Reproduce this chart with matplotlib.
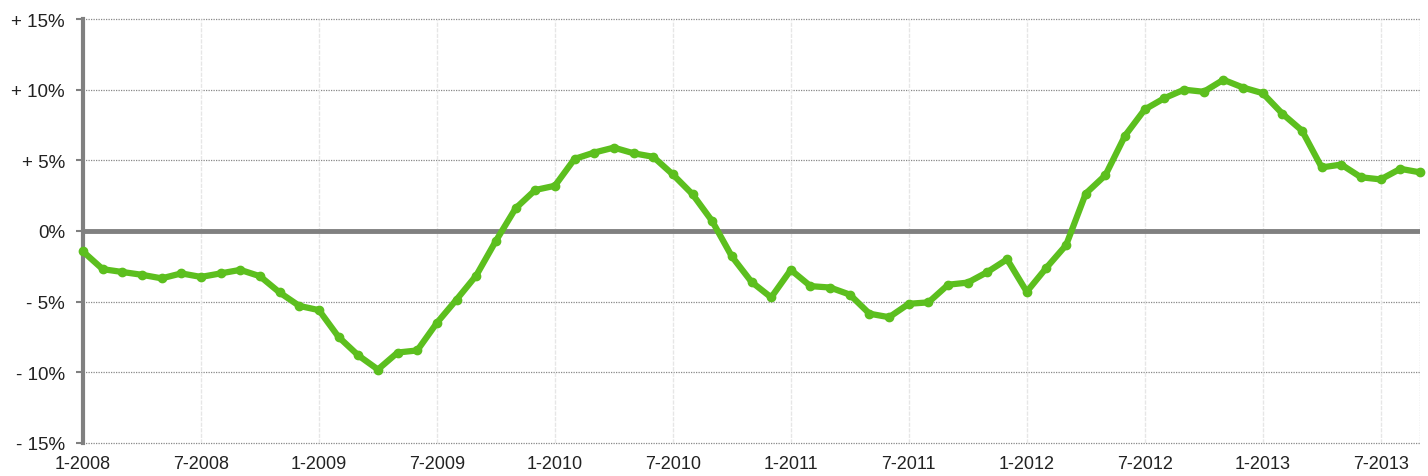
import numpy as np
import matplotlib.pyplot as plt

# monthly values, Jan 2008 - Sep 2013 (%)
values = [-1.45, -2.7, -2.9, -3.1, -3.35, -3.0, -3.25, -3.0, -2.75, -3.2, -4.35, -5.3,
          -5.6, -7.5, -8.8, -9.8, -8.6, -8.45, -6.5, -4.85, -3.15, -0.7, 1.6, 2.9,
          3.2, 5.1, 5.55, 5.9, 5.5, 5.25, 4.0, 2.6, 0.7, -1.8, -3.6, -4.7,
          -2.75, -3.9, -4.0, -4.5, -5.85, -6.1, -5.15, -5.05, -3.8, -3.65, -2.9, -2.0,
          -4.3, -2.6, -1.0, 2.65, 3.95, 6.75, 8.6, 9.4, 10.0, 9.85, 10.7, 10.15,
          9.75, 8.3, 7.1, 4.5, 4.7, 3.8, 3.65, 4.4, 4.15]
x_ticks = [0, 6, 12, 18, 24, 30, 36, 42, 48, 54, 60, 66]
x_labels = ['1-2008', '7-2008', '1-2009', '7-2009', '1-2010', '7-2010',
            '1-2011', '7-2011', '1-2012', '7-2012', '1-2013', '7-2013']
y_ticks = [-15, -10, -5, 0, 5, 10, 15]
y_labels = ['- 15%', '- 10%', '- 5%', '0%', '+ 5%', '+ 10%', '+ 15%']

plt.rcParams['font.family'] = ['Liberation Sans', 'DejaVu Sans']

fig = plt.figure(figsize=(14.28, 4.77), dpi=100)
ax = fig.add_axes([83 / 1428, 1 - 444 / 477, (1420 - 83) / 1428, (444 - 20) / 477])

months = np.arange(len(values))

for t in y_ticks:
    if t != 0:
        ax.axhline(t, color='#888888', lw=0.9, ls=(0, (1, 1)), zorder=1, clip_on=False)
for t in x_ticks[1:]:
    ax.axvline(t, color='#e6e6e6', lw=1, ls=(0, (3, 1)), zorder=1)
ax.axvline(len(values) - 1, color='#aaaaaa', lw=0.9, ls=(0, (1, 1)), zorder=1)
ax.axhline(0, color='#808080', lw=3.5, zorder=2)

ax.plot(months, values, color='#5cbf1e', lw=4.5, marker='o', ms=6,
        solid_joinstyle='round', solid_capstyle='round', zorder=3, clip_on=False)

ax.set_xlim(0, len(values) - 1)
ax.set_ylim(-15, 15)
ax.set_xticks(x_ticks)
ax.set_xticklabels(x_labels, fontsize=13, color='#222222')
ax.set_yticks(y_ticks)
ax.set_yticklabels(y_labels, fontsize=13.5, color='#222222')
ax.tick_params(axis='x', length=0, pad=9)
ax.tick_params(axis='y', length=5, width=1.5, color='#808080', pad=8)

for s in ['top', 'right', 'bottom']:
    ax.spines[s].set_visible(False)
ax.spines['left'].set_color('#808080')
ax.spines['left'].set_linewidth(3)

fig.savefig('out.png', dpi=100)
